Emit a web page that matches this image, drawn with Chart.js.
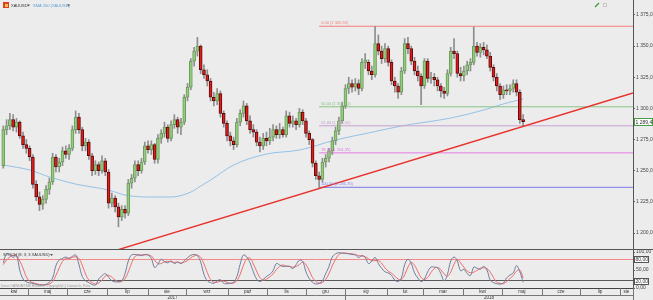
<!DOCTYPE html>
<html>
<head>
<meta charset="utf-8">
<script src="https://cdn.jsdelivr.net/npm/chart.js@4/dist/chart.umd.min.js"></script>
<style>
  body { margin: 0; background: #ececec; width: 653px; height: 300px; overflow: hidden; }
  canvas { position: absolute; left: 0; }
  #main { top: 0; }
  #osc { top: 249px; }
</style>
</head>
<body>
<canvas id="main" width="653" height="249"></canvas>
<canvas id="osc" width="653" height="51"></canvas>
<script>
// XAUUSD candles (one per slot)
const opens = [1254,1283,1286,1291,1285,1289,1278,1271,1268,1261,
  1239,1229,1223,1227,1235,1241,1261,1253,1257,1266,
  1263,1268,1283,1293,1283,1270,1273,1262,1250,1255,
  1250,1258,1249,1224,1228,1221,1213,1219,1216,1240,
  1244,1255,1250,1257,1270,1267,1271,1259,1276,1280,
  1285,1276,1287,1291,1285,1289,1309,1317,1338,1346,
  1350,1331,1327,1322,1309,1306,1312,1296,1288,1278,
  1274,1271,1289,1296,1302,1290,1283,1281,1273,1270,
  1276,1274,1277,1283,1279,1283,1279,1294,1288,1290,
  1287,1297,1290,1280,1275,1256,1246,1243,1257,1260,
  1266,1274,1282,1290,1302,1316,1320,1317,1320,1316,
  1337,1337,1330,1327,1352,1346,1340,1348,1337,1322,
  1318,1313,1330,1352,1348,1338,1330,1326,1318,1338,
  1324,1325,1323,1318,1314,1312,1328,1346,1344,1328,
  1326,1330,1335,1337,1350,1345,1349,1347,1342,1333,
  1325,1318,1311,1315,1314,1316,1320,1313,1291];
const highs = [1286,1291,1296,1295,1292,1290,1281,1275,1270,1263,
  1242,1233,1230,1238,1244,1264,1263,1260,1269,1270,
  1271,1286,1298,1296,1285,1276,1275,1264,1258,1257,
  1262,1260,1251,1232,1230,1224,1222,1222,1243,1247,
  1258,1258,1260,1273,1274,1274,1272,1279,1283,1289,
  1287,1290,1295,1293,1292,1311,1320,1340,1349,1357,
  1351,1335,1331,1324,1313,1316,1314,1298,1290,1281,
  1277,1292,1299,1306,1304,1294,1287,1283,1277,1280,
  1281,1284,1287,1286,1288,1285,1298,1297,1294,1292,
  1300,1299,1292,1282,1276,1258,1249,1260,1263,1268,
  1277,1285,1293,1305,1319,1325,1323,1324,1323,1340,
  1344,1339,1334,1365.9,1359,1350,1352,1350,1339,1325,
  1320,1333,1356,1357,1350,1341,1334,1328,1340,1340,
  1329,1328,1325,1320,1317,1331,1349,1356,1346,1333,
  1334,1338,1340,1365.2,1353,1352,1353,1351,1345,1335,
  1328,1320,1318,1319,1319,1323,1323,1315,1295];
const lows = [1252,1279,1283,1282,1281,1276,1268,1264,1258,1236,
  1226,1218,1219,1224,1231,1239,1249,1249,1254,1260,
  1259,1266,1280,1280,1266,1266,1259,1246,1247,1246,
  1248,1246,1220,1221,1217,1205,1210,1212,1214,1236,
  1241,1246,1248,1255,1264,1263,1256,1256,1272,1277,
  1273,1274,1284,1280,1279,1287,1306,1315,1334,1342,
  1328,1324,1318,1306,1302,1303,1293,1285,1274,1270,
  1267,1269,1286,1293,1287,1280,1277,1270,1265,1267,
  1270,1271,1274,1276,1276,1277,1277,1285,1285,1283,
  1285,1287,1277,1271,1253,1243,1236.7,1241,1253,1257,
  1263,1271,1279,1288,1300,1312,1313,1314,1311,1314,
  1332,1327,1323,1325,1343,1336,1337,1334,1319,1313,
  1308,1311,1328,1344,1335,1327,1322,1303,1316,1321,
  1320,1318,1314,1309,1308,1310,1326,1340,1325,1322,
  1322,1327,1330,1335,1342,1341,1343,1340,1330,1322,
  1314,1307,1308,1311,1311,1313,1310,1288,1286];
const closes = [1283,1286,1291,1285,1289,1278,1271,1268,1261,1239,
  1229,1223,1227,1235,1241,1261,1253,1257,1266,1263,
  1268,1283,1293,1283,1270,1273,1262,1250,1255,1250,
  1258,1249,1224,1228,1221,1213,1219,1216,1240,1244,
  1255,1250,1257,1270,1267,1271,1259,1276,1280,1285,
  1276,1287,1291,1285,1289,1309,1317,1338,1346,1350,
  1331,1327,1322,1309,1306,1312,1296,1288,1278,1274,
  1271,1289,1296,1302,1290,1283,1281,1273,1270,1276,
  1274,1277,1283,1279,1283,1279,1294,1288,1290,1287,
  1297,1290,1280,1275,1256,1246,1243,1257,1260,1266,
  1274,1282,1290,1302,1316,1320,1317,1320,1316,1337,
  1339,1330,1327,1352,1346,1340,1348,1337,1322,1318,
  1313,1330,1352,1348,1338,1330,1326,1318,1338,1324,
  1325,1323,1318,1314,1312,1328,1346,1344,1328,1326,
  1330,1335,1337,1350,1345,1349,1347,1342,1333,1325,
  1318,1311,1315,1314,1316,1320,1313,1291,1289.47];
const lastPrice = 1289.47;

// SMA 200, sampled where it could be read
const smaIdx = [0, 8, 14, 22, 32, 37, 45, 51, 57, 60, 63, 70, 80, 90, 101, 111, 121, 136, 146, 152, 158];
const smaVal = [1254.6, 1250.6, 1245.0, 1239.3, 1234.5, 1230.5, 1228.9, 1228.9, 1232.9, 1237.7, 1242.5,
  1254.6, 1263.4, 1266.6, 1274.7, 1280.3, 1285.9, 1292.3, 1298.7, 1303.6, 1307.6];

// fibo retracement from the december low
const fibStart = 96;
const fibNames = ['0,00', '50,00', '61,80', '78,60', '100,00'];
const fibLevels = [1365.92, 1301.31, 1286.06, 1264.35, 1236.70];
const fibColors = ['#f47c7c', '#86c486', '#c9a2cf', '#e67ae6', '#7b7bee'];

// support trendline (two ends)
const trendX = [30, 191.4];
const trendY = [1182.7, 1312.4];

const priceTicks = [1200, 1225, 1250, 1275, 1300, 1325, 1350, 1375];

// stochastic %K and %D
const stochK = [70,95,93,85,90,50,25,17,14,13,
  10,8,8,10,16,28,62,78,82,86,
  82,88,92,65,32,20,15,10,8,25,
  34,40,30,20,17,17,20,40,75,92,
  93,92,90,93,92,82,57,66,80,73,
  70,75,68,72,68,76,84,91,93,90,
  72,38,20,15,13,20,23,13,12,13,
  16,32,66,92,86,70,45,25,18,24,
  32,38,48,68,64,60,60,60,54,65,
  77,74,45,26,16,11,13,20,40,60,
  86,95,98,97,96,95,93,92,85,90,
  85,68,75,85,68,55,45,42,35,22,
  18,28,65,80,68,42,28,18,25,45,
  58,58,56,40,20,38,75,86,75,48,
  52,40,35,58,55,52,60,50,22,15,
  12,11,14,28,36,42,62,45,16];
const stochD = [65,78,86,91,89,75,55,31,19,15,
  12,10,9,9,11,18,35,56,74,82,
  83,85,87,82,63,39,22,15,11,14,
  22,33,35,30,22,18,18,26,45,69,
  87,92,92,92,92,89,77,68,68,73,
  74,73,71,72,69,72,76,84,89,91,
  85,67,43,24,16,16,19,19,16,13,
  14,20,38,63,81,83,67,47,29,22,
  25,31,39,51,60,64,61,60,58,60,
  65,72,65,48,29,18,13,15,24,40,
  62,80,93,97,97,96,95,93,90,89,
  87,81,76,76,76,69,56,47,41,33,
  25,23,37,58,71,63,46,29,24,29,
  43,54,57,51,39,33,44,66,79,70,
  58,47,42,44,49,55,56,54,44,29,
  16,13,12,18,26,35,47,50,28];
const stochTicks = [0, 20, 50, 80, 100];

// time axis
const monthBounds = [7.5, 19.5, 31.5, 44, 55.5, 68.3, 80.2, 92, 103.9, 116.6, 127.6, 139.7, 151.6, 163.7, 175.3, 187.4];
const monthNames = ['kwi','maj','cze','lip','sie','wrz','paź','lis','gru','sty','lut','mar','kwi','maj','cze','lip','sie'];
const yearBounds = [103.9];
const yearNames = ['2017', '2018'];

const xMin = -1, xMax = 191.4;
const FONT = '"Liberation Sans", Arial, sans-serif';

function fmt(v) {
  var s = v.toFixed(2).split('.');
  var n = s[0];
  if (n.length > 3) n = n.slice(0, n.length - 3) + ' ' + n.slice(-3);
  return n + ',' + s[1];
}

function cellCenters(bounds) {
  var edges = [xMin].concat(bounds, [xMax]);
  var out = [];
  for (var i = 0; i < edges.length - 1; i++) out.push((edges[i] + edges[i+1]) / 2);
  return out;
}

function arrow(c, x, y, col) {
  c.fillStyle = col;
  c.beginPath();
  c.moveTo(x, y - 1); c.lineTo(x + 3, y - 1); c.lineTo(x + 1.5, y + 1);
  c.closePath();
  c.fill();
}

const paintBg = {
  id: 'paintBg',
  beforeDraw(chart) {
    const c = chart.ctx;
    c.save();
    c.fillStyle = '#ececec';
    c.fillRect(0, 0, chart.width, chart.height);
    c.restore();
  }
};

const fibText = {
  id: 'fibText',
  afterDatasetsDraw(chart) {
    const c = chart.ctx, x = chart.scales.x, y = chart.scales.y;
    c.save();
    c.font = '4px ' + FONT;
    c.textBaseline = 'bottom';
    for (var k = 0; k < fibLevels.length; k++) {
      c.fillStyle = fibColors[k];
      c.fillText(fibNames[k] + ' (' + fmt(fibLevels[k]) + ')', x.getPixelForValue(fibStart) + 2, y.getPixelForValue(fibLevels[k]) - 1);
    }
    c.restore();
  }
};

const header = {
  id: 'header',
  afterDraw(chart) {
    const c = chart.ctx, y = chart.scales.y;
    c.save();
    c.fillStyle = '#d8402a'; c.fillRect(3, 2, 6, 6);
    c.fillStyle = '#f2c23c'; c.fillRect(5, 4, 3, 3);
    c.font = '4px ' + FONT;
    c.textBaseline = 'middle';
    c.fillStyle = '#333';
    c.fillText('XAUUSD', 11, 5.5);
    arrow(c, 27, 5.5, '#555');
    c.fillStyle = '#5aa0d8';
    c.fillText('SMA 200 (XAUUSD)', 33, 5.5);
    arrow(c, 67, 5.5, '#555');
    // small tool icons, top right
    c.strokeStyle = '#3f9a3f';
    c.lineWidth = 1.2;
    c.beginPath(); c.moveTo(595, 7); c.lineTo(599, 3); c.stroke();
    c.strokeStyle = '#c8c8c8';
    c.lineWidth = 1;
    c.strokeRect(603.5, 3.5, 3, 3);
    // last price box
    var py = Math.round(y.getPixelForValue(lastPrice));
    c.fillStyle = '#ffffff';
    c.fillRect(634, py - 4, 19, 8);
    c.strokeStyle = '#46a046';
    c.lineWidth = 1;
    c.strokeRect(634.5, py - 3.5, 18, 7);
    c.font = '5px ' + FONT;
    c.fillStyle = '#333';
    c.fillText(fmt(lastPrice), 635.5, py + 0.5);
    c.restore();
  }
};

const idx = opens.map((_, i) => i);
const upColors = closes.map((v, i) => v >= opens[i] ? '#94cc7e' : '#e21b1b');
const upBorders = closes.map((v, i) => v >= opens[i] ? '#6b9a5a' : '#5a0d0d');

const fibSets = fibLevels.map((lv, k) => ({
  type: 'line',
  data: [{x: fibStart, y: lv}, {x: xMax, y: lv}],
  borderColor: fibColors[k],
  borderWidth: 1,
  pointRadius: 0,
  order: 3
}));

new Chart(document.getElementById('main'), {
  type: 'bar',
  data: {
    datasets: fibSets.concat([
      {
        type: 'line',
        data: smaIdx.map((x, i) => ({x: x, y: smaVal[i]})),
        borderColor: '#93c2e8',
        borderWidth: 1,
        pointRadius: 0,
        cubicInterpolationMode: 'monotone',
        order: 4
      },
      {
        type: 'line',
        data: [{x: trendX[0], y: trendY[0]}, {x: trendX[1], y: trendY[1]}],
        borderColor: '#e8322c',
        borderWidth: 1.4,
        pointRadius: 0,
        order: 0
      },
      {
        data: idx.map(i => ({x: i, y: [opens[i], closes[i]]})),
        backgroundColor: upColors,
        borderColor: upBorders,
        borderWidth: 1,
        borderSkipped: false,
        barThickness: 3,
        grouped: false,
        order: 1
      },
      {
        data: idx.map(i => ({x: i, y: [lows[i], highs[i]]})),
        backgroundColor: '#8e8e8e',
        barThickness: 1,
        grouped: false,
        order: 2
      }
    ])
  },
  options: {
    responsive: false,
    animation: false,
    events: [],
    layout: { padding: 0 },
    plugins: { legend: { display: false }, tooltip: { enabled: false } },
    scales: {
      x: { type: 'linear', min: xMin, max: xMax, offset: false, display: false },
      y: {
        position: 'right',
        min: 1187.2,
        max: 1387,
        afterBuildTicks: s => { s.ticks = priceTicks.map(v => ({value: v})); },
        afterFit: s => { s.width = 20; s.paddingTop = 0; s.paddingBottom = 0; },
        grid: { drawOnChartArea: false, tickLength: 2, tickColor: '#666' },
        border: { color: '#555' },
        ticks: { font: { size: 5, family: FONT }, color: '#444', padding: 1, callback: v => fmt(v) }
      }
    }
  },
  plugins: [paintBg, fibText, header]
});

const oscExtras = {
  id: 'oscExtras',
  afterDraw(chart) {
    const c = chart.ctx, x = chart.scales.x, y = chart.scales.y, a = chart.chartArea;
    c.save();
    c.strokeStyle = '#555';
    c.lineWidth = 1;
    c.beginPath(); c.moveTo(0, 0.5); c.lineTo(chart.width, 0.5); c.stroke();
    // time axis cells
    c.strokeStyle = '#777';
    c.beginPath();
    monthBounds.forEach(b => {
      var px = Math.round(x.getPixelForValue(b)) + 0.5;
      c.moveTo(px, x.top); c.lineTo(px, x.bottom);
    });
    yearBounds.forEach(b => {
      var px = Math.round(x.getPixelForValue(b)) + 0.5;
      c.moveTo(px, x.bottom); c.lineTo(px, chart.height);
    });
    c.moveTo(0, Math.round(x.bottom) + 0.5); c.lineTo(a.right, Math.round(x.bottom) + 0.5);
    c.moveTo(Math.round(a.right) + 0.5, a.bottom); c.lineTo(Math.round(a.right) + 0.5, chart.height);
    c.stroke();
    c.font = '4px ' + FONT;
    c.textBaseline = 'middle';
    c.fillStyle = '#333';
    c.fillText('STOCH (8; 3; 3 XAUUSD)', 3, 6);
    arrow(c, 50, 6, '#555');
    c.font = '3.5px ' + FONT;
    c.fillStyle = '#9a9a9a';
    c.fillText('Dane OANDA/TMS Brokers; Copyright(C) Comarch, Prov.', 1, a.bottom - 1.5);
    // boxed level labels
    c.font = '5px ' + FONT;
    [80, 20].forEach(v => {
      var py = Math.round(y.getPixelForValue(v));
      c.fillStyle = '#ffffff';
      c.fillRect(634, py - 3, 15, 7);
      c.strokeStyle = '#555';
      c.strokeRect(634.5, py - 2.5, 14, 6);
      c.fillStyle = '#333';
      c.fillText(fmt(v), 635.5, py + 0.5);
    });
    c.restore();
  }
};

new Chart(document.getElementById('osc'), {
  type: 'line',
  data: {
    datasets: [
      {
        data: idx.map(i => ({x: i, y: stochK[i]})),
        borderColor: '#6f7d9c',
        borderWidth: 1,
        pointRadius: 0,
        tension: 0.4
      },
      {
        data: idx.map(i => ({x: i, y: stochD[i]})),
        borderColor: '#f26a6a',
        borderWidth: 1,
        pointRadius: 0,
        tension: 0.4
      }
    ]
  },
  options: {
    responsive: false,
    animation: false,
    events: [],
    layout: { padding: { top: 1 } },
    plugins: { legend: { display: false }, tooltip: { enabled: false } },
    scales: {
      x: {
        type: 'linear', min: xMin, max: xMax, offset: false, position: 'bottom', weight: 0,
        afterBuildTicks: s => { s.ticks = cellCenters(monthBounds).map(v => ({value: v})); },
        afterFit: s => { s.height = 7; s.paddingLeft = 0; s.paddingRight = 0; },
        grid: { drawOnChartArea: false, drawTicks: false },
        border: { color: '#444' },
        ticks: { autoSkip: false, maxRotation: 0, padding: 1, font: { size: 4.5, family: FONT }, color: '#333',
          callback: (v, i) => monthNames[i] }
      },
      x2: {
        type: 'linear', min: xMin, max: xMax, offset: false, position: 'bottom', weight: 1,
        afterBuildTicks: s => { s.ticks = cellCenters(yearBounds).map(v => ({value: v})); },
        afterFit: s => { s.height = 5; s.paddingLeft = 0; s.paddingRight = 0; },
        grid: { display: false, drawTicks: false },
        border: { display: false },
        ticks: { autoSkip: false, maxRotation: 0, padding: 0, font: { size: 4.5, family: FONT }, color: '#333',
          callback: (v, i) => yearNames[i] }
      },
      y: {
        position: 'right',
        min: 0,
        max: 105.6,
        afterBuildTicks: s => { s.ticks = stochTicks.map(v => ({value: v})); },
        afterFit: s => { s.width = 20; s.paddingTop = 0; s.paddingBottom = 0; },
        grid: {
          color: ctx => ctx.tick && ctx.tick.value === 80 ? '#f28a8a' : (ctx.tick && ctx.tick.value === 20 ? '#5a5a5a' : 'rgba(0,0,0,0)'),
          tickColor: '#666',
          tickLength: 2
        },
        border: { color: '#555' },
        ticks: { font: { size: 5, family: FONT }, color: '#444', padding: 1,
          callback: v => (v === 20 || v === 80) ? '' : fmt(v) }
      }
    }
  },
  plugins: [paintBg, oscExtras]
});
</script>
</body>
</html>
